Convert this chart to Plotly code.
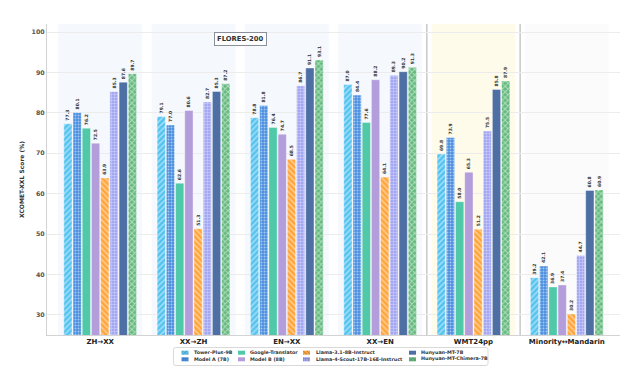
import plotly.graph_objects as go

# ---------------- data ----------------
categories = ["ZH→XX", "XX→ZH", "EN→XX", "XX→EN", "WMT24pp", "Minority↔Mandarin"]
models = ["Tower-Plus-9B", "Model A (7B)", "Google-Translator", "Model B (8B)",
          "Llama-3.1-8B-Instruct", "Llama-4-Scout-17B-16E-Instruct",
          "Hunyuan-MT-7B", "Hunyuan-MT-Chimera-7B"]
tower_plus_9b = [77.3, 79.1, 78.8, 87.0, 69.8, 39.2]
model_a_7b = [80.1, 77.0, 81.8, 84.4, 73.9, 42.1]
google_translator = [76.2, 62.6, 76.4, 77.6, 58.0, 36.9]
model_b_8b = [72.5, 80.6, 74.7, 88.2, 65.3, 37.4]
llama_31_8b = [63.9, 51.3, 68.5, 64.1, 51.2, 30.2]
llama_4_scout = [85.3, 82.7, 86.7, 89.3, 75.5, 44.7]
hunyuan_mt_7b = [87.6, 85.3, 91.1, 90.2, 85.8, 60.8]
hunyuan_chimera = [89.7, 87.2, 93.1, 91.3, 87.9, 60.9]
series = [tower_plus_9b, model_a_7b, google_translator, model_b_8b,
          llama_31_8b, llama_4_scout, hunyuan_mt_7b, hunyuan_chimera]
y_ticks = [30, 40, 50, 60, 70, 80, 90, 100]

# ---------------- styles ----------------
colors = ["#55c3f0", "#4a8fe0", "#4fc9a8", "#b39ddb",
          "#ffa53a", "#a3a6f2", "#4d6fa3", "#62b97c"]
patterns = ["/", ".", "", "", "\\", "+", "", "x"]
pat_sizes = [4, 3, 4, 4, 4, 3, 4, 4]
pat_solid = [0.35, 0.35, 0.3, 0.3, 0.35, 0.3, 0.3, 0.45]

FONT = "DejaVu Sans"
W, H = 620, 368
ML, MR, MT, MB = 47, 0, 24, 2
paper_h = H - MT - MB
plot_bottom_px = 335
dom_bottom = (H - MB - plot_bottom_px) / paper_h

fig = go.Figure()

for name, vals, col, pat, ps, sol in zip(models, series, colors, patterns, pat_sizes, pat_solid):
    fig.add_trace(go.Bar(
        x=categories, y=vals, name=name, showlegend=False,
        marker=dict(color=col, line=dict(color="rgba(255,255,255,0.8)", width=0.5),
                    pattern=dict(shape=pat, bgcolor=col, fgcolor="white",
                                 size=ps, solidity=sol)),
        texttemplate="%{y:.1f}", textposition="outside", textangle=-90,
        constraintext="none", cliponaxis=False,
        textfont=dict(size=4.5, color="#333333", family=FONT, weight="bold"),
    ))

# ---------------- manual compact legend (inset axes in pixel units) ----------------
leg_cols_swatch = [185, 241.5, 306.5, 412.5]
leg_cols_text = [191.5, 247.5, 313.5, 419]
leg_rows = [352.7, 359.3]
sw_x, sw_base, sw_h = [], [], []
for i in range(8):
    c, r = i // 2, i % 2
    sw_x.append(leg_cols_swatch[c])
    sw_base.append(leg_rows[r] - 2)
    sw_h.append(4)
fig.add_trace(go.Bar(
    x=sw_x, y=sw_h, base=sw_base, width=7, offset=-3.5,
    xaxis="x2", yaxis="y2", showlegend=False, hoverinfo="skip",
    marker=dict(color=colors, line=dict(width=0),
                pattern=dict(shape=patterns, bgcolor=colors, fgcolor="white",
                             size=2.5, solidity=0.35)),
))

annotations = []
for i, name in enumerate(models):
    c, r = i // 2, i % 2
    annotations.append(dict(
        x=leg_cols_text[c], y=leg_rows[r], xref="x2", yref="y2",
        text=name, showarrow=False, xanchor="left", yanchor="middle",
        font=dict(size=4.8, color="#333333", family=FONT, weight="bold"),
    ))

annotations.append(dict(
    x=1.5, y=98.3, xref="x", yref="y", text="<b>FLORES-200</b>", showarrow=False,
    font=dict(size=6.8, color="#333333", family=FONT),
    bgcolor="white", bordercolor="#8a8f99", borderwidth=1, borderpad=2,
))

shapes = []
bg_colors = ["#f5f8fd"] * 4 + ["#fffbea", "#fbfbfb"]
for i, bc in enumerate(bg_colors):
    shapes.append(dict(type="rect", xref="x", yref="y domain", x0=i - 0.45, x1=i + 0.45,
                       y0=0, y1=1, fillcolor=bc, line=dict(width=0), layer="below"))
for xs in [3.5, 4.5]:
    shapes.append(dict(type="line", xref="x", yref="y domain", x0=xs, x1=xs, y0=0, y1=1,
                       line=dict(color="#c9c9c9", width=1.5), layer="below"))
# legend frame
x0, x1, y0, y1, rr = 173.5, 488, 347.5, 365.5, 2
shapes.append(dict(
    type="path", xref="x2", yref="y2",
    path=(f"M {x0+rr},{y0} L {x1-rr},{y0} Q {x1},{y0} {x1},{y0+rr} "
          f"L {x1},{y1-rr} Q {x1},{y1} {x1-rr},{y1} L {x0+rr},{y1} "
          f"Q {x0},{y1} {x0},{y1-rr} L {x0},{y0+rr} Q {x0},{y0} {x0+rr},{y0} Z"),
    line=dict(color="#cfcfcf", width=0.8), fillcolor="white", layer="below",
))

fig.update_layout(
    width=W, height=H,
    margin=dict(l=ML, r=MR, t=MT, b=MB),
    paper_bgcolor="white", plot_bgcolor="white",
    font=dict(family=FONT),
    barmode="group", bargap=0.21, bargroupgap=0.1,
    annotations=annotations, shapes=shapes,
    xaxis=dict(
        type="category", range=[-0.57, 5.57], domain=[0, 1], anchor="y",
        showline=True, linecolor="#d3d3d3", linewidth=1,
        showgrid=False, ticks="", tickfont=dict(size=7, color="#222222", family=FONT, weight="bold"),
        fixedrange=True, automargin=False,
    ),
    yaxis=dict(
        domain=[dom_bottom, 1], range=[25, 102], anchor="x",
        tickvals=y_ticks, ticks="",
        tickfont=dict(size=6.3, color="#555555", family=FONT, weight="bold"),
        showline=True, linecolor="#d3d3d3", linewidth=1,
        showgrid=True, gridcolor="#ececec", gridwidth=0.6, zeroline=False,
        title=dict(text="XCOMET-XXL Score (%)", standoff=6,
                   font=dict(size=6, color="#333333", family=FONT, weight="bold")),
        automargin=False,
    ),
    xaxis2=dict(domain=[0, 1], range=[ML, W - MR], anchor="y2", visible=False,
                showgrid=False, zeroline=False),
    yaxis2=dict(domain=[0, dom_bottom], range=[H - MB, plot_bottom_px], anchor="x2",
                visible=False, showgrid=False, zeroline=False),
    showlegend=False,
)

fig.write_html(
    "out.html",
    config={"displayModeBar": False},
    post_script="document.body.style.margin='0';document.body.style.padding='0';document.body.style.overflow='hidden';",
)
